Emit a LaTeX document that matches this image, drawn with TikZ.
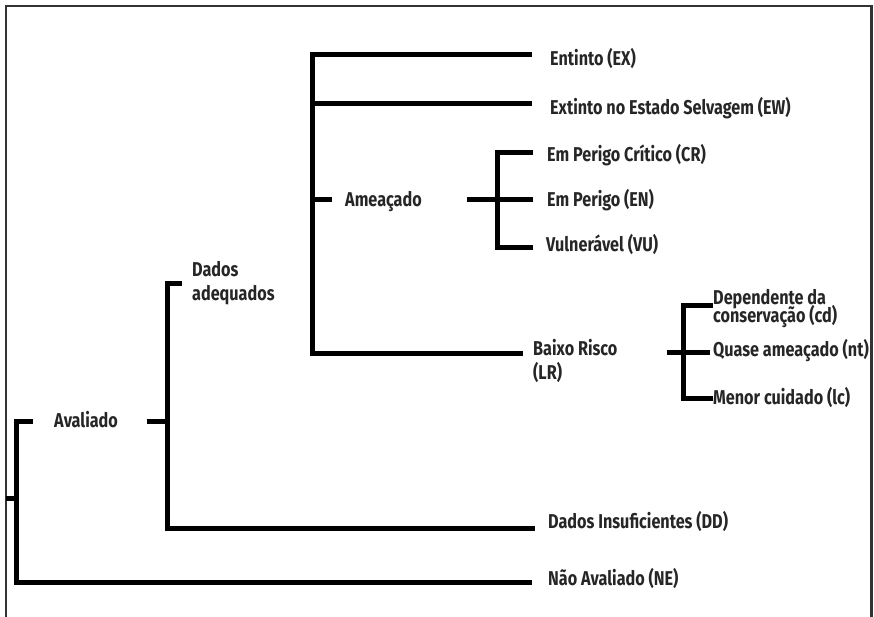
\documentclass[tikz,border=0pt]{standalone}
\usepackage{fontspec}
\setmainfont{Fira Sans}[FakeStretch=0.81]
\newcommand\mylblfont{\bfseries\fontsize{20}{24}\selectfont\lineskiplimit-100pt\relax}
\newcommand\mytightfont{\bfseries\fontsize{20}{18}\selectfont\lineskiplimit-100pt\relax}
\begin{document}
\begin{tikzpicture}[x=1pt,y=-1pt,
  branch/.style={line width=5pt, line join=miter, line cap=butt, draw=black},
  lbl/.style={anchor=base west, inner sep=0pt, align=left, font=\mylblfont, text=black!85},
  lbltight/.style={lbl, font=\mytightfont},
  framestyle/.style={line width=2.2pt, draw=black!80}]
\useasboundingbox (0,0) rectangle (874,617);
% frame
\coordinate (fbl) at (6,617);
\coordinate (ftl) at (6,6);
\coordinate (ftr) at (871.5,6);
\coordinate (fbr) at (871.5,617);
\draw[framestyle] (fbl) -- (ftl) -- (ftr) -- (fbr);

% labels (base anchor = baseline of last line)
\node[lbl] (aval) at (54,427) {Avaliado};
\node[lbl] (dadeq) at (192,300) {Dados\\adequados};
\node[lbl] (ex) at (550,66) {Entinto (EX)};
\node[lbl] (ew) at (550,115) {Extinto no Estado Selvagem (EW)};
\node[lbl] (amea) at (345,207) {Ameaçado};
\node[lbl] (cr) at (547,162) {Em Perigo Crítico (CR)};
\node[lbl] (en) at (547,207) {Em Perigo (EN)};
\node[lbl] (vu) at (546,252) {Vulnerável (VU)};
\node[lbl] (lr) at (533,379) {Baixo Risco\\(LR)};
\node[lbltight] (cd) at (713,322) {Dependente da\\conservação (cd)};
\node[lbl] (nt) at (713,356) {Quase ameaçado (nt)};
\node[lbl] (lc) at (713,404) {Menor cuidado (lc)};
\node[lbl] (dd) at (548,528) {Dados Insuficientes (DD)};
\node[lbl] (ne) at (548,585) {Não Avaliado (NE)};

% root bracket
\coordinate (root) at (6,498);
\coordinate (r0) at (16.5,498);
\coordinate (r0t) at (16.5,421.5);
\coordinate (r0b) at (16.5,582);
\coordinate (avalL) at (33,421.5);
\coordinate (neL) at (532,582);
\draw[branch] (root) -- (r0);
\draw[branch] (avalL) -- (r0t) -- (r0b) -- (neL);

% Avaliado bracket
\coordinate (avalR) at (146.5,421.5);
\coordinate (r1) at (167,421.5);
\coordinate (r1t) at (167,283);
\coordinate (r1b) at (167,528);
\coordinate (dadeqL) at (182,283);
\coordinate (ddL) at (535,528);
\draw[branch] (avalR) -- (r1);
\draw[branch] (dadeqL) -- (r1t) -- (r1b) -- (ddL);

% Dados adequados bracket
\coordinate (r2t) at (312,55);
\coordinate (r2w) at (312,104);
\coordinate (r2a) at (312,200);
\coordinate (r2b) at (312,353);
\coordinate (exL) at (532,55);
\coordinate (ewL) at (532,104);
\coordinate (ameaL) at (332,200);
\coordinate (lrL) at (523,353);
\draw[branch] (exL) -- (r2t) -- (r2b) -- (lrL);
\draw[branch] (r2w) -- (ewL);
\draw[branch] (r2a) -- (ameaL);

% Ameacado bracket
\coordinate (ameaR) at (467,200);
\coordinate (r3t) at (497,153);
\coordinate (r3b) at (497,248);
\coordinate (crL) at (533,153);
\coordinate (enL) at (533,200);
\coordinate (vuL) at (533,248);
\draw[branch] (ameaR) -- (enL);
\draw[branch] (crL) -- (r3t) -- (r3b) -- (vuL);

% Baixo Risco bracket
\coordinate (lrR) at (667,352);
\coordinate (r4t) at (683,305);
\coordinate (r4b) at (683,398);
\coordinate (cdL) at (713,305);
\coordinate (ntL) at (710,352);
\coordinate (lcL) at (713,398);
\draw[branch] (lrR) -- (ntL);
\draw[branch] (cdL) -- (r4t) -- (r4b) -- (lcL);
\end{tikzpicture}
\end{document}
